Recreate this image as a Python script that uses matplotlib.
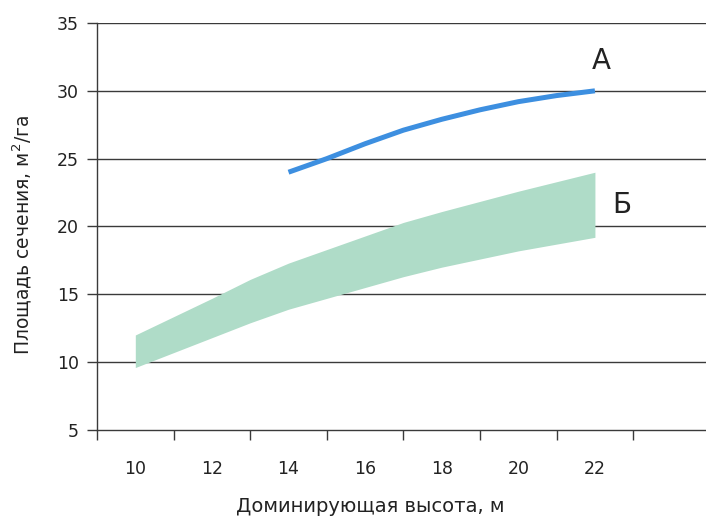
import numpy as np
import matplotlib.pyplot as plt

# Data
line_a_x = [14, 15, 16, 17, 18, 19, 20, 21, 22]
line_a_y = [24.0, 25.0, 26.1, 27.1, 27.9, 28.6, 29.2, 29.65, 30.0]

band_b_x = [10, 12, 13, 14, 16, 17, 18, 20, 22]
band_b_upper = [12.0, 14.7, 16.1, 17.3, 19.3, 20.3, 21.1, 22.6, 24.0]
band_b_lower = [9.6, 11.8, 12.9, 13.9, 15.5, 16.3, 17.0, 18.2, 19.2]

x_labels = [10, 12, 14, 16, 18, 20, 22]
x_bounds = [9, 11, 13, 15, 17, 19, 21, 23]
y_ticks = [5, 10, 15, 20, 25, 30, 35]

BLUE = "#3d8fe0"
GREEN = "#afdcc8"
GRID = "#3a3a3a"
TEXT = "#222222"

plt.rcParams["font.family"] = ["DejaVu Sans"]

fig = plt.figure(figsize=(7.06, 5.18), dpi=100)
ax = fig.add_axes([0.1374, 0.170, 0.8626, 0.7856])

ax.fill_between(band_b_x, band_b_lower, band_b_upper, color=GREEN,
                linewidth=0, zorder=3)
ax.plot(line_a_x, line_a_y, color=BLUE, linewidth=3.6,
        solid_capstyle="butt", solid_joinstyle="round", zorder=4)

for y in y_ticks[1:]:
    ax.axhline(y, color=GRID, linewidth=1.0, zorder=1)

ax.set_xlim(9, 24.9)
ax.set_ylim(5, 35)

ax.set_yticks(y_ticks)
ax.set_xticks(x_bounds)
ax.set_xticklabels([])
ax.set_xticks(x_labels, minor=True)
ax.set_xticklabels([str(v) for v in x_labels], minor=True)

ax.tick_params(axis="y", direction="out", length=7, width=1, color=GRID,
               labelsize=12.5, labelcolor=TEXT, pad=6)
ax.tick_params(axis="x", which="major", direction="out", length=7, width=1,
               color=GRID)
ax.tick_params(axis="x", which="minor", length=0, labelsize=12.5,
               labelcolor=TEXT, pad=22)

for side in ["top", "right"]:
    ax.spines[side].set_visible(False)
for side in ["left", "bottom"]:
    ax.spines[side].set_color(GRID)
    ax.spines[side].set_linewidth(1.0)

ax.text(21.93, 32.2, "А", fontsize=20, color=TEXT, ha="left", va="center")
ax.text(22.45, 21.6, "Б", fontsize=20, color=TEXT, ha="left", va="center")

fig.text(0.031, 0.546, "Площадь сечения, м$^2$/га", rotation=90,
         fontsize=13.5, color=TEXT, ha="center", va="center")
fig.text(0.525, 0.004, "Доминирующая высота, м", fontsize=14, color=TEXT,
         ha="center", va="bottom")

fig.savefig("out.png", dpi=100)
